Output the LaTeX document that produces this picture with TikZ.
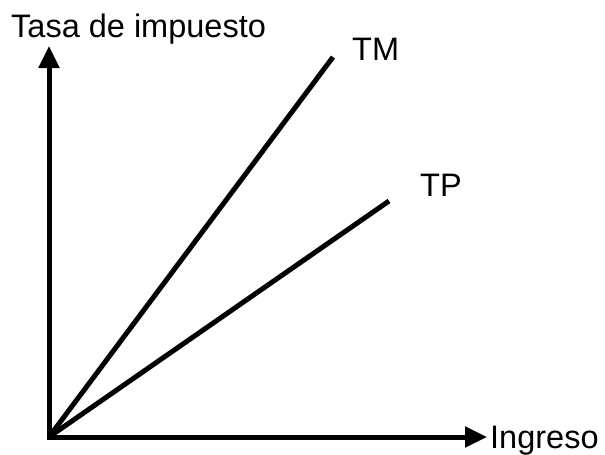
\documentclass[tikz,border=0pt]{standalone}
\usepackage{fontspec}
\setmainfont{Liberation Sans}
\usetikzlibrary{arrows.meta}

\begin{document}
\begin{tikzpicture}[x=1pt,y=-1pt,
	axis/.style={line width=5pt,-{Triangle[length=22pt,width=20pt]}},
	curve/.style={line width=5pt},
	lbl/.style={anchor=base west,inner sep=0pt,font=\fontsize{32.5}{38}\selectfont}]
	\useasboundingbox (0,0) rectangle (605,455);
	% ejes
	\coordinate (O) at (49,437);
	\coordinate (ytip) at (49,46);
	\coordinate (xtip) at (487,437);
	\draw[axis] (49,439.5) -- (ytip);
	\draw[axis] (46.5,437) -- (xtip);
	% tasas
	\coordinate (tm) at (333,57);
	\coordinate (tp) at (389,201);
	\draw[curve] (O) -- (tm);
	\draw[curve] (O) -- (tp);
	% etiquetas
	\node[lbl] (ylab) at (11,37) {Tasa de impuesto};
	\node[lbl] (xlab) at (490,448) {Ingreso};
	\node[lbl] (tmlab) at (352,60) {TM};
	\node[lbl] (tplab) at (420,196) {TP};
\end{tikzpicture}
\end{document}
